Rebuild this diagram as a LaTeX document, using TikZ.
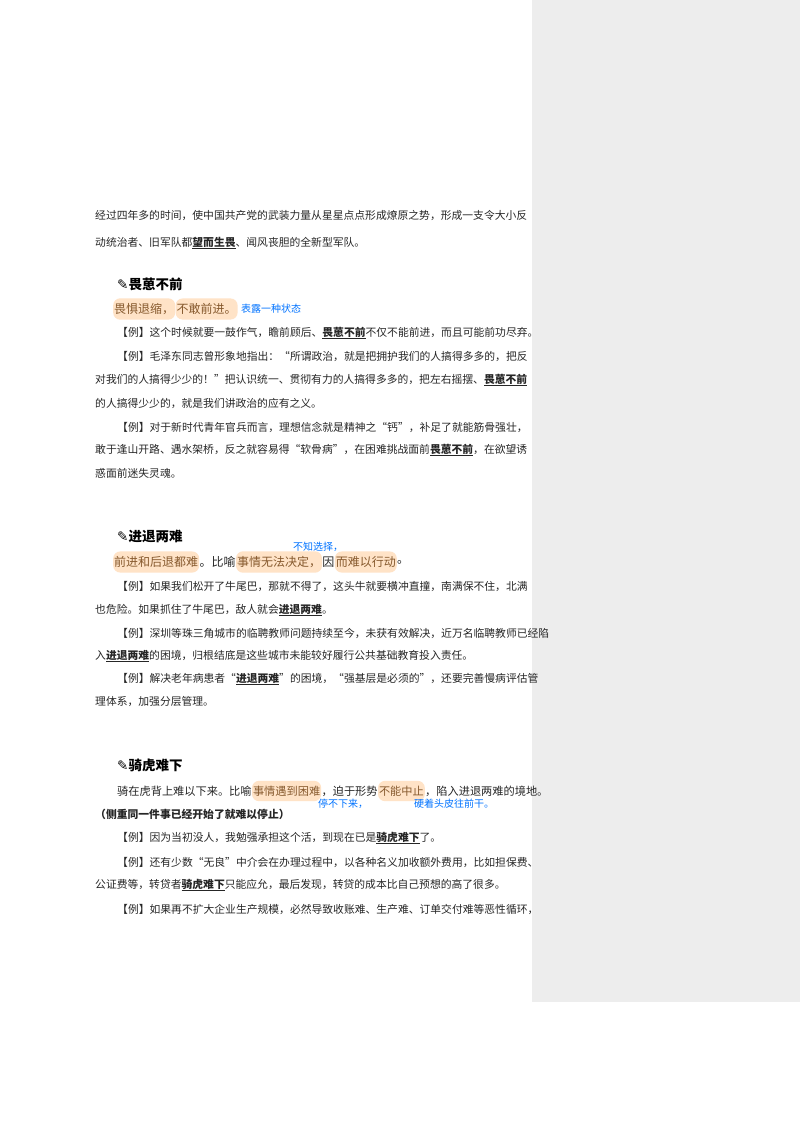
\documentclass[tikz,border=0pt]{standalone}
\usepackage{fontspec}
\setmainfont{Noto Sans CJK SC}
\newfontfamily\symf{DejaVu Sans}
\begin{document}
\begin{tikzpicture}[x=1pt,y=-1pt,
  t/.style={anchor=west,inner sep=0pt,font=\fontsize{10.8}{13}\selectfont,text=black!85},
  d/.style={anchor=west,inner sep=0pt,font=\fontsize{12}{14}\selectfont,text=black!85},
  d3/.style={anchor=west,inner sep=0pt,font=\fontsize{11.2}{14}\selectfont,text=black!85},
  h/.style={anchor=west,inner sep=0pt,font=\fontsize{13.5}{15}\selectfont\bfseries},
  hl/.style={d,fill=orange!22,rounded corners=7pt,inner xsep=1pt,inner ysep=5pt,text=brown!70!black},
  hl3/.style={d3,fill=orange!22,rounded corners=7pt,inner xsep=1pt,inner ysep=5pt,text=brown!70!black},
  note/.style={anchor=west,inner sep=0pt,font=\fontsize{10}{11}\selectfont\itshape,text=blue!55!cyan}]
\useasboundingbox (0,0) rectangle (800,1132);
\fill[white] (0,0) rectangle (800,1132);
\fill[black!7] (532,0) rectangle (800,1002);
\newcommand{\kw}[1]{\underline{\textbf{#1}}}
% intro
\node[t] (l1) at (95,216) {经过四年多的时间，使中国共产党的武装力量从星星点点形成燎原之势，形成一支令大小反};
\node[t] (l2) at (95,243) {动统治者、旧军队都\kw{望而生畏}、闻风丧胆的全新型军队。};
% section 1
\node[h] (h1) at (117,284) {{\symf ✎}畏葸不前};
\node[hl] (d1a) at (113,309) {畏惧退缩，};
\node[hl] (d1b) at (d1a.east) [anchor=west] {不敢前进。};
\node[note] (n1) at ([xshift=3pt]d1b.east) {表露一种状态};
\node[t] (e11) at (117,333) {【例】这个时候就要一鼓作气，瞻前顾后、\kw{畏葸不前}不仅不能前进，而且可能前功尽弃。};
\node[t] (e21) at (117,356) {【例】毛泽东同志曾形象地指出：“所谓政治，就是把拥护我们的人搞得多多的，把反};
\node[t] (e22) at (95,380) {对我们的人搞得少少的！”把认识统一、贯彻有力的人搞得多多的，把左右摇摆、\kw{畏葸不前}};
\node[t] (e23) at (95,403) {的人搞得少少的，就是我们讲政治的应有之义。};
\node[t] (e31) at (117,427) {【例】对于新时代青年官兵而言，理想信念就是精神之“钙”，补足了就能筋骨强壮，};
\node[t] (e32) at (95,450) {敢于逢山开路、遇水架桥，反之就容易得“软骨病”，在困难挑战面前\kw{畏葸不前}，在欲望诱};
\node[t] (e33) at (95,473) {惑面前迷失灵魂。};
% section 2
\node[h] (h2) at (117,536) {{\symf ✎}进退两难};
\node[hl] (d2a) at (113,562) {前进和后退都难};
\node[d] (d2b) at (d2a.east) [anchor=west] {。比喻};
\node[hl] (d2c) at (d2b.east) [anchor=west] {事情无法决定，};
\node[d] (d2d) at (d2c.east) [anchor=west] {因};
\node[hl] (d2e) at (d2d.east) [anchor=west] {而难以行动};
\node[d] (d2f) at (d2e.east) [anchor=west] {。};
\node[note] (n2) at (293,547) {不知选择，};
\node[t] (f11) at (117,587) {【例】如果我们松开了牛尾巴，那就不得了，这头牛就要横冲直撞，南满保不住，北满};
\node[t] (f12) at (95,610) {也危险。如果抓住了牛尾巴，敌人就会\kw{进退两难}。};
\node[t] (f21) at (117,633) {【例】深圳等珠三角城市的临聘教师问题持续至今，未获有效解决，近万名临聘教师已经陷};
\node[t] (f22) at (95,656) {入\kw{进退两难}的困境，归根结底是这些城市未能较好履行公共基础教育投入责任。};
\node[t] (f31) at (117,679) {【例】解决老年病患者“\kw{进退两难}”的困境，“强基层是必须的”，还要完善慢病评估管};
\node[t] (f32) at (95,702) {理体系，加强分层管理。};
% section 3
\node[h] (h3) at (117,765) {{\symf ✎}骑虎难下};
\node[d3] (d3a) at (117,791) {骑在虎背上难以下来。比喻};
\node[hl3] (d3b) at (d3a.east) [anchor=west] {事情遇到困难};
\node[d3] (d3c) at (d3b.east) [anchor=west] {，迫于形势};
\node[hl3] (d3d) at (d3c.east) [anchor=west] {不能中止};
\node[d3] (d3e) at (d3d.east) [anchor=west] {，陷入进退两难的境地。};
\node[note] (n3a) at (318,804) {停不下来，};
\node[note] (n3b) at (414,804) {硬着头皮往前干。};
\node[t,font=\fontsize{10.8}{13}\selectfont\bfseries] (p3) at (95,814) {（侧重同一件事已经开始了就难以停止）};
\node[t] (g11) at (117,838) {【例】因为当初没人，我勉强承担这个活，到现在已是\kw{骑虎难下}了。};
\node[t] (g21) at (117,862) {【例】还有少数“无良”中介会在办理过程中，以各种名义加收额外费用，比如担保费、};
\node[t] (g22) at (95,885) {公证费等，转贷者\kw{骑虎难下}只能应允，最后发现，转贷的成本比自己预想的高了很多。};
\node[t] (g31) at (117,909) {【例】如果再不扩大企业生产规模，必然导致收账难、生产难、订单交付难等恶性循环，};
\end{tikzpicture}
\end{document}
